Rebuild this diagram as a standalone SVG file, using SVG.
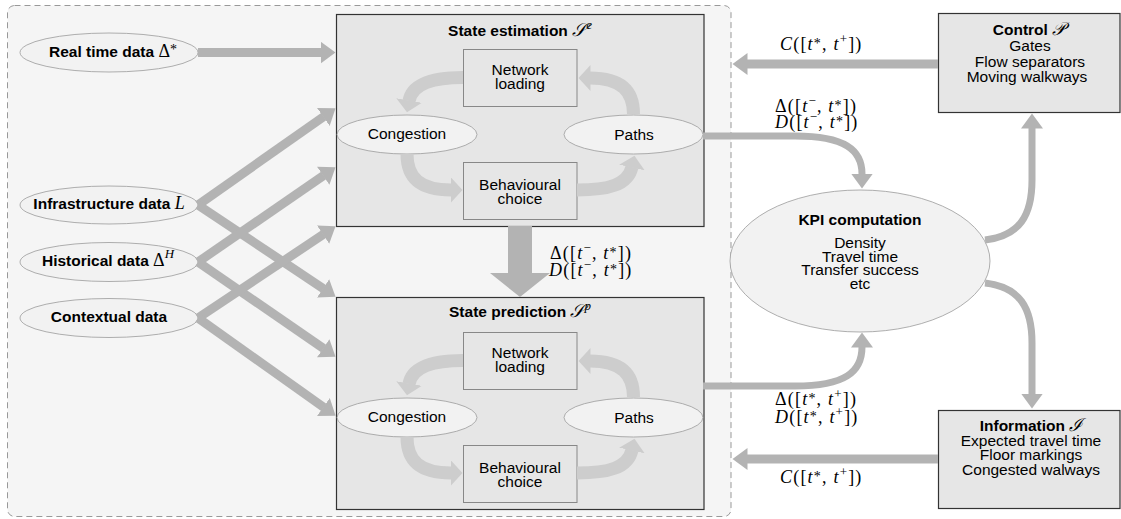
<svg xmlns="http://www.w3.org/2000/svg" width="1121" height="519" viewBox="0 0 1121 519">
<defs>
<style>
.t{font-family:"Liberation Sans",Arial,sans-serif;font-size:15.5px;fill:#000}
.b{font-weight:bold}
.m{font-family:"Liberation Serif","Times New Roman",serif;font-size:18px;fill:#000;font-weight:normal}
.lb{letter-spacing:1.2px}
.i{font-style:italic}
.sp{font-size:13px}
.st{font-size:14px}
.box{fill:#e6e6e6;stroke:#333;stroke-width:1.2}
.sub{fill:#e6e6e6;stroke:#888;stroke-width:1}
.ell{fill:#f2f2f2;stroke:#9a9a9a;stroke-width:0.8}
.arr{fill:none;stroke:#b3b3b3;stroke-width:9}
.carr{fill:none;stroke:#b3b3b3;stroke-width:7}
.inn{fill:none;stroke:#cdcdcd;stroke-width:13}
</style>
<marker id="ah" markerUnits="userSpaceOnUse" markerWidth="16" markerHeight="22" refX="0.5" refY="11" orient="auto"><path d="M0,0 L15,11 L0,22 Z" fill="#b3b3b3"/></marker>
<marker id="ai" markerUnits="userSpaceOnUse" markerWidth="13" markerHeight="26" refX="0.5" refY="13" orient="auto"><path d="M0,0 L12,13 L0,26 Z" fill="#cdcdcd"/></marker>
</defs>

<rect id="container" x="7.5" y="5.5" width="723.5" height="511" rx="7" fill="#f5f5f5" stroke="#999" stroke-dasharray="6,4"/>

<g id="realtime">
<ellipse class="ell" cx="109" cy="52.5" rx="89" ry="19.5"/>
<text class="t b" x="113" y="57" text-anchor="middle">Real time data <tspan class="m">Δ</tspan><tspan class="m st" dy="-3">*</tspan></text>
</g>
<g id="infrastructure">
<ellipse class="ell" cx="109" cy="205" rx="89" ry="19"/>
<text class="t b" x="109" y="209" text-anchor="middle">Infrastructure data <tspan class="m i">L</tspan></text>
</g>
<g id="historical">
<ellipse class="ell" cx="109" cy="262" rx="89" ry="19.5"/>
<text class="t b" x="108" y="266" text-anchor="middle">Historical data <tspan class="m">Δ</tspan><tspan class="m i sp" dy="-8">H</tspan></text>
</g>
<g id="contextual">
<ellipse class="ell" cx="109" cy="318" rx="89" ry="19.5"/>
<text class="t b" x="109" y="322" text-anchor="middle">Contextual data</text>
</g>

<g id="state-estimation">
<rect class="box" x="336.5" y="14.5" width="367.5" height="212"/>
<text class="t b" x="520" y="36" text-anchor="middle">State estimation <tspan class="m i">𝒮</tspan><tspan class="m i sp" dy="-7">e</tspan></text>
<rect class="sub" x="463.5" y="49.5" width="113.5" height="57"/>
<text class="t" x="520" y="75" text-anchor="middle">Network</text>
<text class="t" x="520" y="89" text-anchor="middle">loading</text>
<rect class="sub" x="463.5" y="162.5" width="113.5" height="57"/>
<text class="t" x="520" y="190" text-anchor="middle">Behavioural</text>
<text class="t" x="520" y="204" text-anchor="middle">choice</text>
<ellipse class="ell" cx="407" cy="134.5" rx="70" ry="19.5"/>
<text class="t" x="407" y="139" text-anchor="middle">Congestion</text>
<ellipse class="ell" cx="633.5" cy="134.5" rx="69.5" ry="19.5"/>
<text class="t" x="634" y="140" text-anchor="middle">Paths</text>
</g>

<g id="state-prediction">
<rect class="box" x="336.5" y="297.5" width="367.5" height="212"/>
<text class="t b" x="520" y="317" text-anchor="middle">State prediction <tspan class="m i">𝒮</tspan><tspan class="m i sp" dy="-7">p</tspan></text>
<rect class="sub" x="463.5" y="332.5" width="113.5" height="57"/>
<text class="t" x="520" y="358" text-anchor="middle">Network</text>
<text class="t" x="520" y="372" text-anchor="middle">loading</text>
<rect class="sub" x="463.5" y="445.5" width="113.5" height="57"/>
<text class="t" x="520" y="473" text-anchor="middle">Behavioural</text>
<text class="t" x="520" y="487" text-anchor="middle">choice</text>
<ellipse class="ell" cx="407" cy="417.5" rx="70" ry="19.5"/>
<text class="t" x="407" y="422" text-anchor="middle">Congestion</text>
<ellipse class="ell" cx="633.5" cy="417.5" rx="69.5" ry="19.5"/>
<text class="t" x="634" y="423" text-anchor="middle">Paths</text>
</g>

<g id="kpi">
<ellipse class="ell" cx="860" cy="261" rx="130" ry="71"/>
<text class="t b" x="860" y="225" text-anchor="middle">KPI computation</text>
<text class="t" x="860" y="248" text-anchor="middle">Density</text>
<text class="t" x="860" y="261.5" text-anchor="middle">Travel time</text>
<text class="t" x="860" y="275" text-anchor="middle">Transfer success</text>
<text class="t" x="860" y="288.5" text-anchor="middle">etc</text>
</g>

<g id="control">
<rect class="box" x="938.5" y="13.5" width="181.5" height="99"/>
<text class="t b" x="1029" y="35" text-anchor="middle">Control <tspan class="m i">𝒫</tspan></text>
<text class="t" x="1030" y="51" text-anchor="middle">Gates</text>
<text class="t" x="1030" y="66.5" text-anchor="middle">Flow separators</text>
<text class="t" x="1027" y="82" text-anchor="middle">Moving walkways</text>
</g>

<g id="information">
<rect class="box" x="938.5" y="410.5" width="181.5" height="98"/>
<text class="t b" x="1031" y="431" text-anchor="middle">Information <tspan class="m i">ℐ</tspan></text>
<text class="t" x="1031" y="445.5" text-anchor="middle">Expected travel time</text>
<text class="t" x="1031" y="460" text-anchor="middle">Floor markings</text>
<text class="t" x="1031" y="474.5" text-anchor="middle">Congested walways</text>
</g>

<g id="connectors">
<path class="arr" marker-end="url(#ah)" d="M198,52.5 L321,52.5"/>
<path class="arr" marker-end="url(#ah)" d="M198,205 L323.7,116.6"/>
<path class="arr" marker-end="url(#ah)" d="M198,205 L323.5,288.7"/>
<path class="arr" marker-end="url(#ah)" d="M198,262 L323.6,175.5"/>
<path class="arr" marker-end="url(#ah)" d="M198,262 L323.6,348.5"/>
<path class="arr" marker-end="url(#ah)" d="M198,318 L323.5,234.3"/>
<path class="arr" marker-end="url(#ah)" d="M198,318 L323.8,407.3"/>
<path d="M508,226 L532,226 L532,273 L550,273 L520,297 L490,273 L508,273 Z" fill="#b3b3b3"/>
<path class="arr" marker-end="url(#ah)" d="M938,64 L747,64"/>
<path class="arr" marker-end="url(#ah)" d="M938,459 L747,459"/>
<path class="carr" marker-end="url(#ah)" d="M703,136 L795,136 C845,136 862,150 862,174"/>
<path class="carr" marker-end="url(#ah)" d="M703,386 L795,386 C845,386 862,372 862,347"/>
<path class="carr" marker-end="url(#ah)" d="M985,240 C1020,236 1032,215 1032,180 L1032,128"/>
<path class="carr" marker-end="url(#ah)" d="M985,283 C1020,287 1032,308 1032,343 L1032,394"/>
<path class="inn" marker-end="url(#ai)" d="M463,77.5 C432,77.5 412,84 409,101"/>
<path class="inn" marker-end="url(#ai)" d="M407,154 C407,178 420,190 451,190"/>
<path class="inn" marker-end="url(#ai)" d="M577,190 C608,190 628,185 632,167"/>
<path class="inn" marker-end="url(#ai)" d="M633.5,114 C633.5,92 622,78 590,78"/>
<path class="inn" marker-end="url(#ai)" d="M463,360.5 C432,360.5 412,367 409,384"/>
<path class="inn" marker-end="url(#ai)" d="M407,437 C407,461 420,473 451,473"/>
<path class="inn" marker-end="url(#ai)" d="M577,473 C608,473 628,468 632,450"/>
<path class="inn" marker-end="url(#ai)" d="M633.5,397 C633.5,375 622,361 590,361"/>
</g>

<g id="labels">
<text class="m lb" x="780" y="50"><tspan class="i">C</tspan>([<tspan class="i">t</tspan><tspan class="st" dy="-2">*</tspan><tspan dy="2">, </tspan><tspan class="i">t</tspan><tspan class="sp" dy="-7">+</tspan><tspan dy="7">])</tspan></text>
<text class="m lb" x="775" y="111.5">Δ([<tspan class="i">t</tspan><tspan class="sp" dy="-7">−</tspan><tspan dy="7">, </tspan><tspan class="i">t</tspan><tspan class="st" dy="-2">*</tspan><tspan dy="2">])</tspan></text>
<text class="m lb" x="775" y="127.5"><tspan class="i">D</tspan>([<tspan class="i">t</tspan><tspan class="sp" dy="-7">−</tspan><tspan dy="7">, </tspan><tspan class="i">t</tspan><tspan class="st" dy="-2">*</tspan><tspan dy="2">])</tspan></text>
<text class="m lb" x="550" y="259">Δ([<tspan class="i">t</tspan><tspan class="sp" dy="-7">−</tspan><tspan dy="7">, </tspan><tspan class="i">t</tspan><tspan class="st" dy="-2">*</tspan><tspan dy="2">])</tspan></text>
<text class="m lb" x="549" y="276"><tspan class="i">D</tspan>([<tspan class="i">t</tspan><tspan class="sp" dy="-7">−</tspan><tspan dy="7">, </tspan><tspan class="i">t</tspan><tspan class="st" dy="-2">*</tspan><tspan dy="2">])</tspan></text>
<text class="m lb" x="775" y="405">Δ([<tspan class="i">t</tspan><tspan class="st" dy="-2">*</tspan><tspan dy="2">, </tspan><tspan class="i">t</tspan><tspan class="sp" dy="-7">+</tspan><tspan dy="7">])</tspan></text>
<text class="m lb" x="775" y="423"><tspan class="i">D</tspan>([<tspan class="i">t</tspan><tspan class="st" dy="-2">*</tspan><tspan dy="2">, </tspan><tspan class="i">t</tspan><tspan class="sp" dy="-7">+</tspan><tspan dy="7">])</tspan></text>
<text class="m lb" x="780" y="483"><tspan class="i">C</tspan>([<tspan class="i">t</tspan><tspan class="st" dy="-2">*</tspan><tspan dy="2">, </tspan><tspan class="i">t</tspan><tspan class="sp" dy="-7">+</tspan><tspan dy="7">])</tspan></text>
</g>
</svg>
